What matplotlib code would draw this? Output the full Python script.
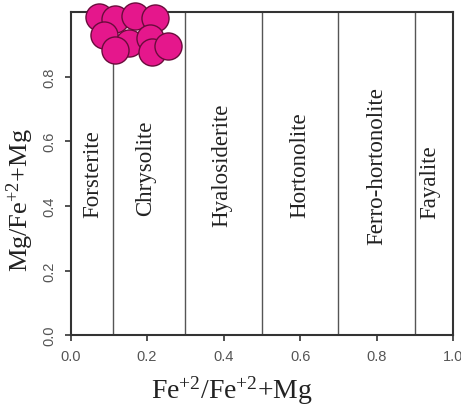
import matplotlib
matplotlib.use('Agg')
import matplotlib.pyplot as plt

# olivine analyses (Fe/(Fe+Mg), Mg/(Fe+Mg))
fe_ratio = [0.075, 0.116, 0.169, 0.221, 0.088, 0.153, 0.116, 0.208, 0.213, 0.255]
mg_ratio = [0.984, 0.978, 0.988, 0.981, 0.929, 0.904, 0.882, 0.919, 0.876, 0.894]

# field boundaries and names
boundaries = [0.112, 0.3, 0.5, 0.7, 0.9]
field_names = ['Forsterite', 'Chrysolite', 'Hyalosiderite', 'Hortonolite',
               'Ferro-hortonolite', 'Fayalite']
field_x = [0.057, 0.195, 0.396, 0.600, 0.800, 0.940]
field_y = [0.50, 0.52, 0.53, 0.53, 0.525, 0.475]

fig = plt.figure(figsize=(4.61, 4.06), dpi=100)
ax = fig.add_axes([0.153, 0.172, 0.830, 0.796])

for b in boundaries:
    ax.plot([b, b], [0, 1.0], color='#555555', lw=1.0, zorder=1)

ax.scatter(fe_ratio, mg_ratio, s=380, c='#e5178c', edgecolors='#6a0c3c',
           linewidths=1.0, zorder=3, clip_on=False)

for name, x, y in zip(field_names, field_x, field_y):
    ax.text(x, y, name, rotation=90, ha='center', va='center',
            fontsize=16.5, family='Liberation Serif', color='#222222')

ax.set_xlim(0, 1.0)
ax.set_ylim(0, 1.0)
ax.set_xticks([0.0, 0.2, 0.4, 0.6, 0.8, 1.0])
ax.set_yticks([0.0, 0.2, 0.4, 0.6, 0.8])
ax.set_xticklabels(['0.0', '0.2', '0.4', '0.6', '0.8', '1.0'], family='Liberation Sans')
ax.set_yticklabels(['0.0', '0.2', '0.4', '0.6', '0.8'], rotation=90, va='center',
                   family='Liberation Sans')
ax.tick_params(direction='out', length=4, width=1.2, colors='#333333',
               labelcolor='#555555', labelsize=10.5, pad=6)

for sp in ax.spines.values():
    sp.set_color('#333333')
    sp.set_linewidth(1.5)

ax.set_xlabel(r'$\mathregular{Fe^{+2}/Fe^{+2}{+}Mg}$', family='Liberation Serif',
              fontsize=20, color='#222222')
ax.xaxis.set_label_coords(0.422, -0.12)
ax.set_ylabel(r'$\mathregular{Mg/Fe^{+2}{+}Mg}$', family='Liberation Serif',
              fontsize=19, color='#222222')
ax.yaxis.set_label_coords(-0.09, 0.42)

fig.savefig('out.png', dpi=100)
